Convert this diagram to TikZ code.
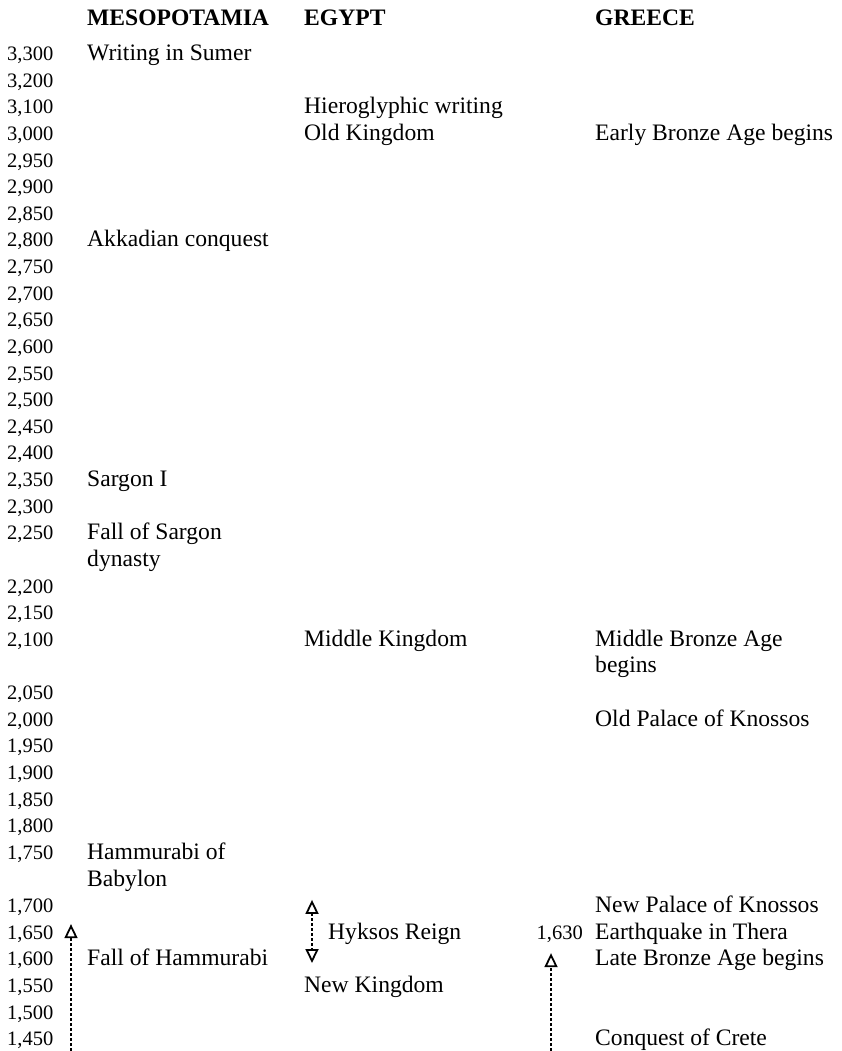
\documentclass[tikz,border=0pt]{standalone}
\usepackage{fontspec}
\setmainfont{Liberation Serif}
\usetikzlibrary{arrows.meta}
\tikzstyle{yearlabel} = [anchor=base west, inner sep=0pt, font=\fontsize{20.5}{24}\selectfont]
\tikzstyle{event} = [anchor=base west, inner sep=0pt, font=\fontsize{23.6}{26.6}\selectfont]
\tikzstyle{heading} = [event, font=\fontsize{23.6}{26.6}\selectfont\bfseries]
\tikzstyle{period} = [line width=1.8pt, dash pattern=on 3pt off 2pt, -{Triangle[open, length=14pt, width=13pt]}]

\begin{document}
\begin{tikzpicture}
\useasboundingbox (0pt,0pt) rectangle (842pt,-1051pt);
\begin{scope}[x=1pt, y=-26.63pt, yshift=-60.5pt]
% column heads
\node[heading] (mesoHead) at (87,-1.3) {MESOPOTAMIA};
\node[heading] (egyptHead) at (304,-1.3) {EGYPT};
\node[heading] (greeceHead) at (595,-1.3) {GREECE};
% years down the left
\foreach \r/\yr in {0/{3,300}, 1/{3,200}, 2/{3,100}, 3/{3,000}, 4/{2,950}, 5/{2,900},
    6/{2,850}, 7/{2,800}, 8/{2,750}, 9/{2,700}, 10/{2,650}, 11/{2,600}, 12/{2,550},
    13/{2,500}, 14/{2,450}, 15/{2,400}, 16/{2,350}, 17/{2,300}, 18/{2,250}, 20/{2,200},
    21/{2,150}, 22/{2,100}, 24/{2,050}, 25/{2,000}, 26/{1,950}, 27/{1,900}, 28/{1,850},
    29/{1,800}, 30/{1,750}, 32/{1,700}, 33/{1,650}, 34/{1,600}, 35/{1,550}, 36/{1,500},
    37/{1,450}}
  \node[yearlabel] (year\r) at (7,\r) {\yr};
% Mesopotamia
\node[event] (sumer) at (87,0) {Writing in Sumer};
\node[event] (akkad) at (87,7) {Akkadian conquest};
\node[event] (sargon) at (87,16) {Sargon I};
\node[event] (sargonFall) at (87,18) {Fall of Sargon};
\node[event] (sargonFallB) at (87,19) {dynasty};
\node[event] (hammurabi) at (87,30) {Hammurabi of};
\node[event] (hammurabiB) at (87,31) {Babylon};
\node[event] (hammurabiFall) at (87,34) {Fall of Hammurabi};
% Egypt
\node[event] (hiero) at (304,2) {Hieroglyphic writing};
\node[event] (oldKingdom) at (304,3) {Old Kingdom};
\node[event] (midKingdom) at (304,22) {Middle Kingdom};
\node[event] (hyksos) at (328,33) {Hyksos Reign};
\node[event] (newKingdom) at (304,35) {New Kingdom};
% Greece
\node[event] (earlyBronze) at (595,3) {Early Bronze Age begins};
\node[event] (midBronze) at (595,22) {Middle Bronze Age};
\node[event] (midBronzeB) at (595,23) {begins};
\node[event] (oldPalace) at (595,25) {Old Palace of Knossos};
\node[event] (newPalace) at (595,32) {New Palace of Knossos};
\node[yearlabel, anchor=base east] (theraYear) at (583,33) {1,630};
\node[event] (thera) at (595,33) {Earthquake in Thera};
\node[event] (lateBronze) at (595,34) {Late Bronze Age begins};
\node[event] (crete) at (595,37) {Conquest of Crete};
% spans
\coordinate (mesoFoot) at (71,37.2);
\coordinate (mesoTop) at (71,32.43);
\coordinate (hyksosTop) at (312,31.52);
\coordinate (hyksosEnd) at (312,33.89);
\coordinate (greeceFoot) at (551,37.2);
\coordinate (greeceTop) at (551,33.52);
\draw[period] (mesoFoot) -- (mesoTop);
\draw[period, {Triangle[open, length=14pt, width=13pt]}-{Triangle[open, length=14pt, width=13pt]}] (hyksosTop) -- (hyksosEnd);
\draw[period] (greeceFoot) -- (greeceTop);
\end{scope}
\end{tikzpicture}
\end{document}
